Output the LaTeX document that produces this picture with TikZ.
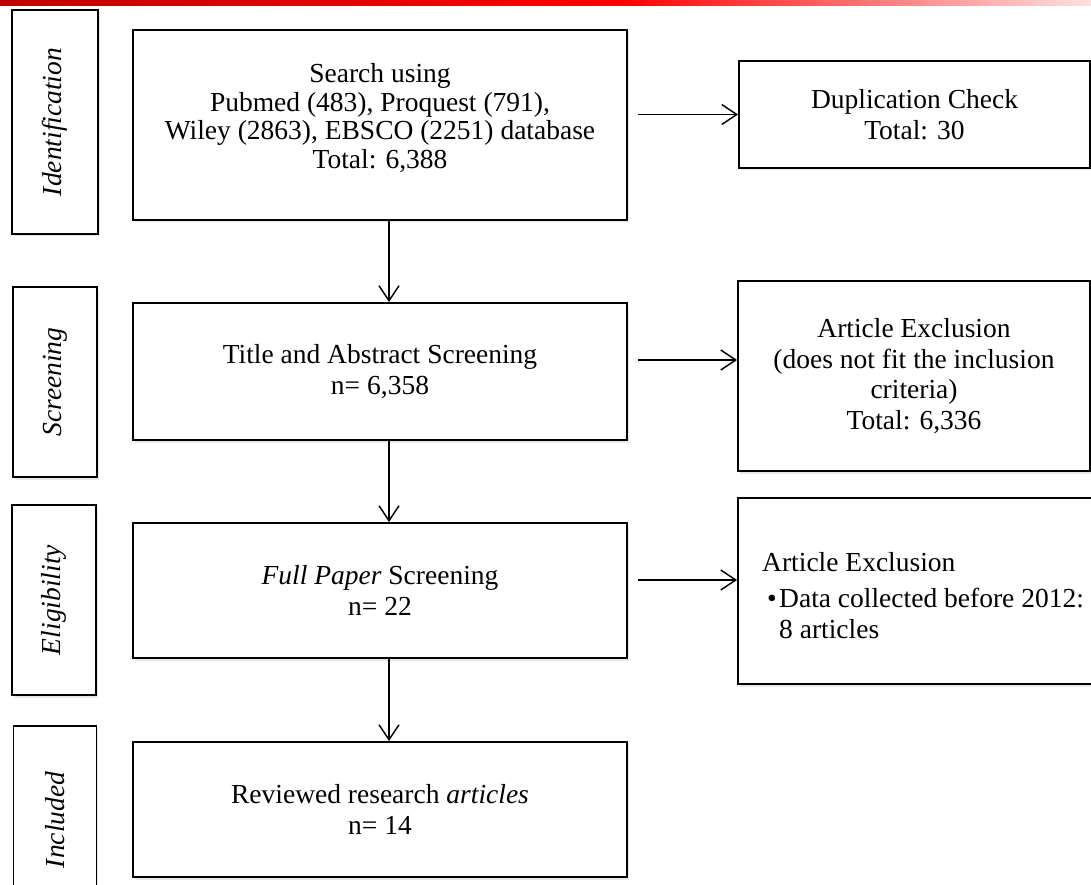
\documentclass[tikz,border=0pt]{standalone}
\usepackage{fontspec}
\setmainfont{Liberation Serif}
\usetikzlibrary{arrows.meta,shadows}
\begin{document}
\begin{tikzpicture}[x=1pt,y=-1pt,
  box/.style={draw=black, line width=1.8pt, fill=white,
    drop shadow={opacity=0.18, shadow xshift=1.5pt, shadow yshift=-2.5pt},
    inner sep=4pt, align=center, font=\fontsize{27.5}{30.5}\selectfont},
  lbl/.style={box, rotate=90, font=\fontsize{27.5}{30.5}\selectfont\itshape},
  txt/.style={inner sep=0pt, align=left, font=\fontsize{27.5}{30.5}\selectfont},
  arr/.style={line width=1.5pt, -{Straight Barb[length=15pt,width=20pt,line width=1.5pt]}}]
\useasboundingbox (0,0) rectangle (1091,885);
\clip (0,0) rectangle (1091,885);
\fill[white] (0,0) rectangle (1091,885);
% top red bar
\shade[left color=red!75!black, right color=red] (0,0) rectangle (620,6);
\shade[left color=red, right color=red!12] (620,0) rectangle (1091,6);

% stage labels
\node[lbl, minimum width=224, minimum height=86] (lid) at (55,122) {Identification};
\node[lbl, minimum width=190, minimum height=84] (lsc) at (55,382) {Screening};
\node[lbl, minimum width=190, minimum height=84] (lel) at (54,600) {Eligibility};
\node[lbl, minimum width=188, minimum height=83] (lin) at (55,820) {Included};

% main boxes
\node[box, minimum width=494, minimum height=190] (search) at (380,125) {};
\node[inner sep=0pt, align=center, font=\fontsize{27.5}{28.5}\selectfont] (searcht) at (380,118)
  {Search using\\Pubmed (483), Proquest (791),\\Wiley (2863), EBSCO (2251) database\\Total: 6,388};
\node[box, minimum width=494, minimum height=137] (screen) at (380,371.5)
  {Title and Abstract Screening\\n= 6,358};
\node[box, minimum width=494, minimum height=135] (full) at (380,590.5)
  {\textit{Full Paper} Screening\\n= 22};
\node[box, minimum width=494, minimum height=135] (rev) at (380,809.5)
  {Reviewed research \textit{articles}\\n= 14};

% side boxes
\node[box, minimum width=351, minimum height=107] (dup) at (914.5,114.5)
  {Duplication Check\\Total: 30};
\node[box, minimum width=352, minimum height=190] (ex1) at (914,376)
  {Article Exclusion\\(does not fit the inclusion\\criteria)\\Total: 6,336};
\node[box, minimum width=372, minimum height=186] (ex2) at (924,591) {};
\node[txt, anchor=north west] (ex2t) at (762,552)
  {Article Exclusion\\[6pt]\hspace*{5pt}\makebox[12pt][l]{\textbullet}Data collected before 2012:\\\hspace*{17pt}8 articles};

% vertical arrows
\draw[arr] ([xshift=9pt]search.south) -- ([xshift=9pt]screen.north);
\draw[arr] ([xshift=9pt]screen.south) -- ([xshift=9pt]full.north);
\draw[arr] ([xshift=9pt]full.south) -- ([xshift=9pt]rev.north);

% horizontal arrows
\coordinate (sE) at ([xshift=10pt]search.east);
\draw[arr] (sE |- dup.west) -- (dup.west);
\coordinate (scE) at ([xshift=10pt,yshift=11.5pt]screen.east);
\draw[arr] (scE) -- (scE -| ex1.west);
\coordinate (fpE) at ([xshift=10pt,yshift=10.5pt]full.east);
\draw[arr] (fpE) -- (fpE -| ex2.west);
\end{tikzpicture}
\end{document}
